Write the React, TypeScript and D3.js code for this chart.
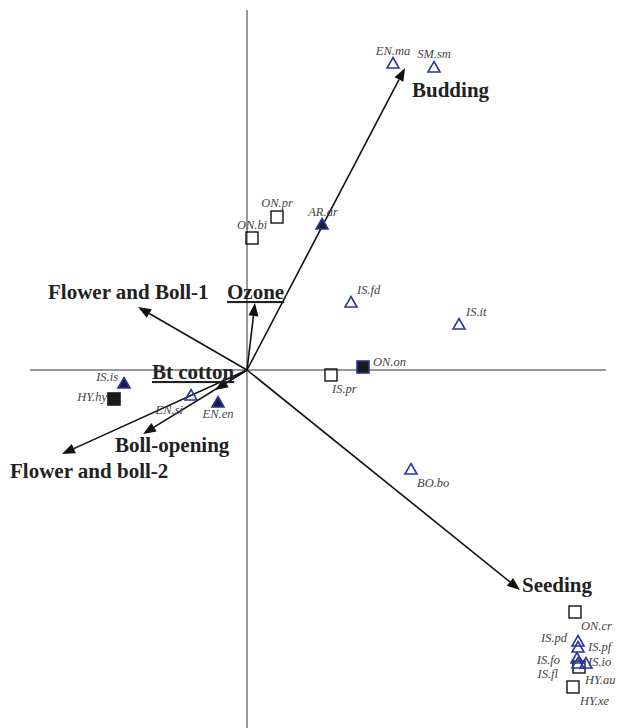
import React from "react";
import * as d3 from "d3";

// CCA-like biplot scores
const openTriangles = [
  { name: "EN.ma", x: 1.46, y: 3.07 },
  { name: "SM.sm", x: 1.87, y: 3.03 },
  { name: "IS.fd", x: 1.04, y: 0.68 },
  { name: "IS.it", x: 2.12, y: 0.46 },
  { name: "BO.bo", x: 1.64, y: -0.99 },
  { name: "EN.si", x: -0.56, y: -0.25 },
  { name: "IS.pd", x: 3.31, y: -2.71 },
  { name: "IS.pf", x: 3.31, y: -2.77 },
  { name: "IS.fo", x: 3.3, y: -2.88 },
  { name: "IS.fl", x: 3.31, y: -2.93 },
  { name: "IS.io", x: 3.39, y: -2.93 },
];
const filledTriangles = [
  { name: "AR.ar", x: 0.75, y: 1.46 },
  { name: "IS.is", x: -1.23, y: -0.13 },
  { name: "EN.en", x: -0.29, y: -0.32 },
];
const openSquares = [
  { name: "ON.pr", x: 0.3, y: 1.53 },
  { name: "ON.bi", x: 0.05, y: 1.32 },
  { name: "IS.pr", x: 0.84, y: -0.05 },
  { name: "ON.cr", x: 3.28, y: -2.42 },
  { name: "HY.au", x: 3.32, y: -2.97 },
  { name: "HY.xe", x: 3.26, y: -3.17 },
];
const filledSquares = [
  { name: "ON.on", x: 1.16, y: 0.03, outline: "blue" },
  { name: "HY.hy", x: -1.33, y: -0.29, outline: "black" },
];
const vectors = [
  { name: "Budding", x: 1.58, y: 3.02 },
  { name: "Seeding", x: 2.73, y: -2.2 },
  { name: "Flower and Boll-1", x: -1.09, y: 0.63 },
  { name: "Ozone", x: 0.08, y: 0.67 },
  { name: "Bt cotton", x: -0.32, y: -0.2 },
  { name: "Boll-opening", x: -1.04, y: -0.64 },
  { name: "Flower and boll-2", x: -1.85, y: -0.84 },
];

// label placement (pixel offsets from marker / arrow tip)
const pointLabelPos: Record<string, [number, number, string]> = {
  "EN.ma": [0, -8, "middle"],
  "SM.sm": [0, -9, "middle"],
  "AR.ar": [1, -8, "middle"],
  "ON.pr": [0, -10, "middle"],
  "ON.bi": [0, -9, "middle"],
  "IS.fd": [6, -8, "start"],
  "IS.it": [7, -8, "start"],
  "ON.on": [10, -1, "start"],
  "IS.pr": [1, 18, "start"],
  "BO.bo": [6, 18, "start"],
  "IS.is": [-6, -2, "end"],
  "HY.hy": [-7, 2, "end"],
  "EN.si": [-8, 19, "end"],
  "EN.en": [0, 16, "middle"],
  "ON.cr": [6, 18, "start"],
  "IS.pd": [-11, 1, "end"],
  "IS.pf": [10, 4, "start"],
  "IS.fo": [-17, 6, "end"],
  "IS.io": [2, 3, "start"],
  "IS.fl": [-20, 15, "end"],
  "HY.au": [6, 17, "start"],
  "HY.xe": [7, 18, "start"],
};
const vectorLabelPos: Record<string, [number, number, boolean]> = {
  Budding: [412, 97, false],
  Seeding: [522, 592, false],
  "Flower and Boll-1": [48, 299, false],
  Ozone: [227, 299, true],
  "Bt cotton": [152, 379, true],
  "Boll-opening": [115, 452, false],
  "Flower and boll-2": [10, 478, false],
};

const W = 619;
const H = 728;
const BLUE = "#2a35a0";
const SERIF = "'Liberation Serif', 'Times New Roman', serif";

export default function App() {
  const x = d3.scaleLinear().domain([-2.47, 3.72]).range([0, W]);
  const y = d3.scaleLinear().domain([3.7, -3.58]).range([0, H]);
  const x0 = x(0);
  const y0 = y(0);

  const tri = (cx: number, cy: number) => {
    const w = 6, h = 10;
    return `M${cx},${cy - h / 2 - 0.5}L${cx + w},${cy + h / 2}L${cx - w},${cy + h / 2}Z`;
  };

  const arrow = (v: { x: number; y: number }) => {
    const tx = x(v.x), ty = y(v.y);
    const ang = Math.atan2(ty - y0, tx - x0);
    const L = 13, hw = 5;
    const bx = tx - L * Math.cos(ang), by = ty - L * Math.sin(ang);
    const px = -Math.sin(ang) * hw, py = Math.cos(ang) * hw;
    return { tx, ty, bx, by, head: `M${tx},${ty}L${bx + px},${by + py}L${bx - px},${by - py}Z` };
  };

  const labelText = (name: string, cx: number, cy: number) => {
    const [dx, dy, anchor] = pointLabelPos[name];
    return (
      <text
        key={"l" + name}
        x={cx + dx}
        y={cy + dy}
        textAnchor={anchor as any}
        fontFamily={SERIF}
        fontStyle="italic"
        fontSize={12.5}
        fill="#444"
      >
        {name}
      </text>
    );
  };

  return (
    <svg width={W} height={H} style={{ position: "absolute", left: 0, top: 0, background: "#fff" }}>
      <line x1={x(-2.17)} x2={x(3.59)} y1={y0} y2={y0} stroke="#333" strokeWidth={1} />
      <line x1={x0} x2={x0} y1={y(3.6)} y2={H} stroke="#333" strokeWidth={1} />

      {vectors.map((v) => {
        const a = arrow(v);
        return (
          <g key={v.name}>
            <line x1={x0} y1={y0} x2={a.bx} y2={a.by} stroke="#111" strokeWidth={1.6} />
            <path d={a.head} fill="#111" />
          </g>
        );
      })}

      {openSquares.map((d) => (
        <rect key={d.name} x={x(d.x) - 6} y={y(d.y) - 6} width={12} height={12} fill="#fff" fillOpacity={0} stroke="#111" strokeWidth={1.4} />
      ))}
      {filledSquares.map((d) => (
        <rect key={d.name} x={x(d.x) - 6} y={y(d.y) - 6} width={12} height={12} fill="#1a1a1a" stroke={d.outline === "blue" ? BLUE : "#1a1a1a"} strokeWidth={1.6} />
      ))}
      {openTriangles.map((d) => (
        <path key={d.name} d={tri(x(d.x), y(d.y))} fill="none" stroke={BLUE} strokeWidth={1.6} strokeLinejoin="miter" />
      ))}
      {filledTriangles.map((d) => (
        <path key={d.name} d={tri(x(d.x), y(d.y))} fill="#1b1b3c" stroke={BLUE} strokeWidth={1.6} />
      ))}

      {[...openTriangles, ...filledTriangles, ...openSquares, ...filledSquares].map((d) =>
        labelText(d.name, x(d.x), y(d.y))
      )}

      {vectors.map((v) => {
        const [lx, ly, ul] = vectorLabelPos[v.name];
        return (
          <text key={"t" + v.name} x={lx} y={ly} fontFamily={SERIF} fontWeight="bold" fontSize={21} fill="#222" textDecoration={ul ? "underline" : undefined}>
            {v.name}
          </text>
        );
      })}
    </svg>
  );
}
